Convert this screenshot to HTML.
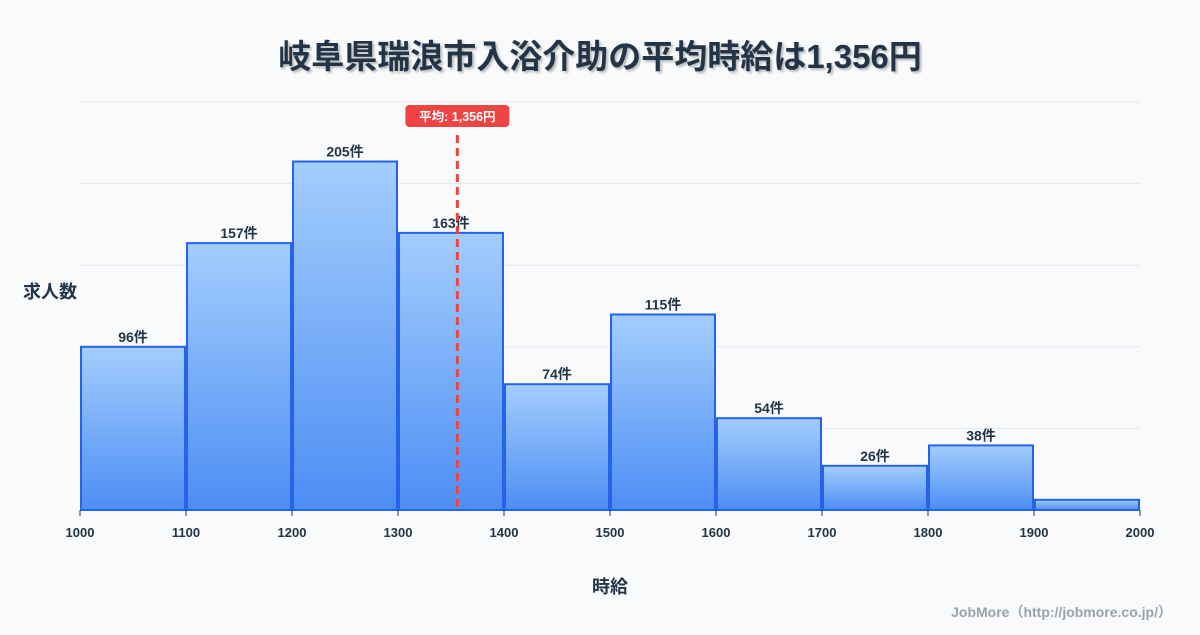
<!DOCTYPE html>
<html><head><meta charset="utf-8">
<style>
body{margin:0;background:#f8fafc;font-family:"Liberation Sans","Noto Sans CJK JP",sans-serif;}
svg text{font-family:"Liberation Sans","Noto Sans CJK JP",sans-serif;}
</style></head>
<body>
<svg id="c" width="1200" height="630" viewBox="0 0 1200 630">
<defs>
<linearGradient id="g" x1="0" y1="0" x2="0" y2="1">
<stop offset="0" stop-color="#a3cdfc"/><stop offset="1" stop-color="#4d8ef5"/>
</linearGradient>
</defs>
<rect width="1200" height="630" fill="#f8fafc"/>
<text x="600" y="68" text-anchor="middle" font-size="33" font-weight="bold" fill="#243447" style="text-shadow:2px 2px 2px rgba(0,0,0,0.25)">岐阜県瑞浪市入浴介助の平均時給は1,356円</text>
<g id="grid"></g>
<g id="bars"></g>
<g id="xt"></g>
<text x="50" y="298" text-anchor="middle" font-size="18" font-weight="bold" fill="#243447">求人数</text>
<text x="610" y="593" text-anchor="middle" font-size="18" font-weight="bold" fill="#243447">時給</text>
<text x="1172" y="617" text-anchor="end" font-size="14" font-weight="bold" fill="#9aa3ad">JobMore（http://jobmore.co.jp/）</text>
<g id="avg"></g>
</svg>
<script>
const binStarts=[1000,1100,1200,1300,1400,1500,1600,1700,1800,1900];
const counts=[96,157,205,163,74,115,54,26,38,6];
const showLabel=[true,true,true,true,true,true,true,true,true,false];
const xTicks=[1000,1100,1200,1300,1400,1500,1600,1700,1800,1900,2000];
const gridVals=[0,48,96,144,192,240];
const avgValue=1356;
const avgLabel="平均: 1,356円";
const NS="http://www.w3.org/2000/svg";
const X=v=>80+(v-1000)*1.06;
const Y=v=>510-v*408/240;
function mk(t,a,p){const e=document.createElementNS(NS,t);for(const k in a)e.setAttribute(k,a[k]);p.appendChild(e);return e;}
const grid=document.getElementById('grid');
gridVals.forEach(v=>{const l=mk('line',{x1:80,x2:1140,y1:Y(v),y2:Y(v),stroke:'#e3e7ec','stroke-width':1},grid);

});
const bars=document.getElementById('bars');
binStarts.forEach((b,i)=>{const x0=X(b)+1,x1=X(b+100)-1;
const r=mk('rect',{x:x0,y:Y(counts[i]),width:x1-x0,height:510-Y(counts[i]),fill:'url(#g)',stroke:'#2563eb','stroke-width':2},bars);


if(showLabel[i]){const t=mk('text',{x:(x0+x1)/2,y:Y(counts[i])-5,'text-anchor':'middle','font-size':14,'font-weight':'bold',fill:'#243447'},bars);t.textContent=counts[i]+'件';

}});
const xt=document.getElementById('xt');
xTicks.forEach(v=>{const l=mk('line',{x1:X(v),x2:X(v),y1:510,y2:516,stroke:'#243447','stroke-width':1},xt);


const t=mk('text',{x:X(v),y:537,'text-anchor':'middle','font-size':13,'font-weight':'bold',fill:'#243447'},xt);t.textContent=v;

});
const avg=document.getElementById('avg');const ax=X(avgValue);
const al=mk('line',{x1:ax,x2:ax,y1:135,y2:510,stroke:'#ef4444','stroke-width':3,'stroke-dasharray':'8,5'},avg);


const ar=mk('rect',{x:ax-52,y:105,width:104,height:22,rx:4,fill:'#ef4444'},avg);


const at=mk('text',{x:ax,y:121,'text-anchor':'middle','font-size':12.5,'font-weight':'bold',fill:'#fff'},avg);at.textContent=avgLabel;


</script>
</body></html>
